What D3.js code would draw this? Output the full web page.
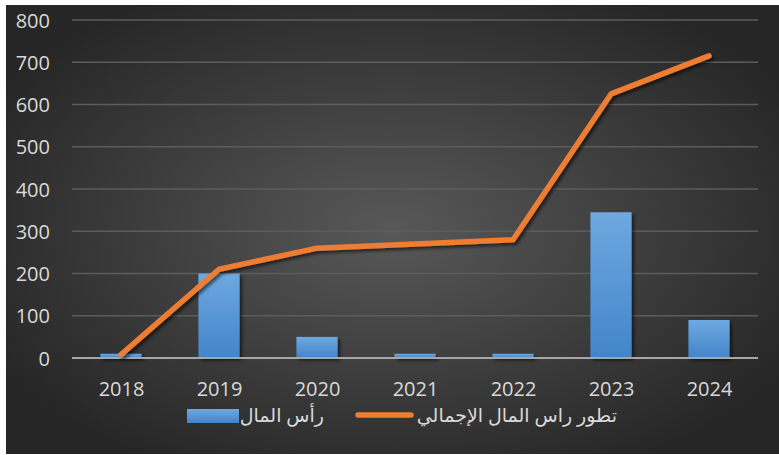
<!DOCTYPE html>
<html><head><meta charset="utf-8">
<script src="https://cdn.jsdelivr.net/npm/d3@7"></script>
<style>html,body{margin:0;padding:0;background:#fff;}svg{display:block;}</style>
</head><body>
<script>
const categories = ["2018","2019","2020","2021","2022","2023","2024"];
const capitalValues = [10,200,50,10,10,345,90];
const totalCapital = [8,210,260,270,280,625,715];
const yTicks = [0,100,200,300,400,500,600,700,800];
const seriesNames = ["رأس المال","تطور راس المال الإجمالي"];

const W=779,H=455;
const svg=d3.select("body").append("svg").attr("width",W).attr("height",H);
const defs=svg.append("defs");
const rg=defs.append("radialGradient").attr("id","bg").attr("cx","50%").attr("cy","50%").attr("r","60%");
rg.append("stop").attr("offset","0%").attr("stop-color","#585858");
rg.append("stop").attr("offset","100%").attr("stop-color","#262626");
const bg=defs.append("linearGradient").attr("id","bar").attr("x1",0).attr("x2",0).attr("y1",0).attr("y2",1);
bg.append("stop").attr("offset","0%").attr("stop-color","#6ea8e0");
bg.append("stop").attr("offset","100%").attr("stop-color","#4285ca");
const f=defs.append("filter").attr("id","sh").attr("x","-20%").attr("y","-20%").attr("width","140%").attr("height","140%");
f.append("feDropShadow").attr("dx",2.5).attr("dy",2.5).attr("stdDeviation",1.8).attr("flood-color","#000").attr("flood-opacity",0.55);

svg.append("rect").attr("x",6).attr("y",5).attr("width",W-6).attr("height",H-6).attr("fill","url(#bg)");

const x=d3.scaleBand().domain(categories).range([72,758]).paddingInner(0.58).paddingOuter(0.29);
const xc=d3.scalePoint().domain(categories).range([72,758]).padding(0.5);
const y=d3.scaleLinear().domain([0,800]).range([358,20]);

// gridlines
svg.append("g").selectAll("line").data(yTicks.filter(d=>d>0)).join("line")
 .attr("x1",72).attr("x2",758).attr("y1",d=>y(d)).attr("y2",d=>y(d))
 .attr("stroke","#5c5c5c").attr("stroke-width",1.3);

// y labels
const yAxis=d3.axisLeft(y).tickValues(yTicks).tickSize(0).tickPadding(0);
const gy=svg.append("g").attr("transform","translate(50,0)").call(yAxis);
gy.select(".domain").remove();
gy.selectAll("text").attr("fill","#d9d9d9").style("font-family","'Open Sans',sans-serif").style("font-size","20px").attr("dy","0.35em");

// bars
svg.append("g").attr("filter","url(#sh)").selectAll("rect").data(capitalValues).join("rect")
 .attr("x",(d,i)=>x(categories[i])).attr("width",x.bandwidth())
 .attr("y",d=>y(d)).attr("height",d=>y(0)-y(d)).attr("fill","url(#bar)");

// x axis line
svg.append("line").attr("x1",72).attr("x2",758).attr("y1",y(0)).attr("y2",y(0)).attr("stroke","#a6a6a6").attr("stroke-width",2);

// x labels
const xAxis=d3.axisBottom(xc).tickSize(0).tickPadding(0);
const gx=svg.append("g").attr("transform","translate(0,389)").call(xAxis);
gx.select(".domain").remove();
gx.selectAll("text").attr("fill","#d9d9d9").style("font-family","'Open Sans',sans-serif").style("font-size","20px").attr("dy","0.35em").attr("y",0);

// line
const line=d3.line().x((d,i)=>xc(categories[i])).y(d=>y(d));
svg.append("path").datum(totalCapital).attr("d",line).attr("fill","none")
 .attr("stroke","#ed7d31").attr("stroke-width",5.5).attr("stroke-linejoin","round").attr("stroke-linecap","round").attr("filter","url(#sh)");

// legend
const lg=svg.append("g");
lg.append("rect").attr("x",187).attr("y",409).attr("width",52).attr("height",14).attr("fill","url(#bar)");
lg.append("text").attr("x",324).attr("y",415).attr("dy","0.35em").attr("text-anchor","end")
 .attr("fill","#d9d9d9").style("font-family","'Open Sans','DejaVu Sans',sans-serif").style("font-size","19px").text(seriesNames[0]);
lg.append("line").attr("x1",358).attr("x2",411).attr("y1",415).attr("y2",415).attr("stroke","#ed7d31").attr("stroke-width",5.5).attr("stroke-linecap","round");
lg.append("text").attr("x",617).attr("y",415).attr("dy","0.35em").attr("text-anchor","end")
 .attr("fill","#d9d9d9").style("font-family","'Open Sans','DejaVu Sans',sans-serif").style("font-size","19px").text(seriesNames[1]);
</script>
</body></html>
